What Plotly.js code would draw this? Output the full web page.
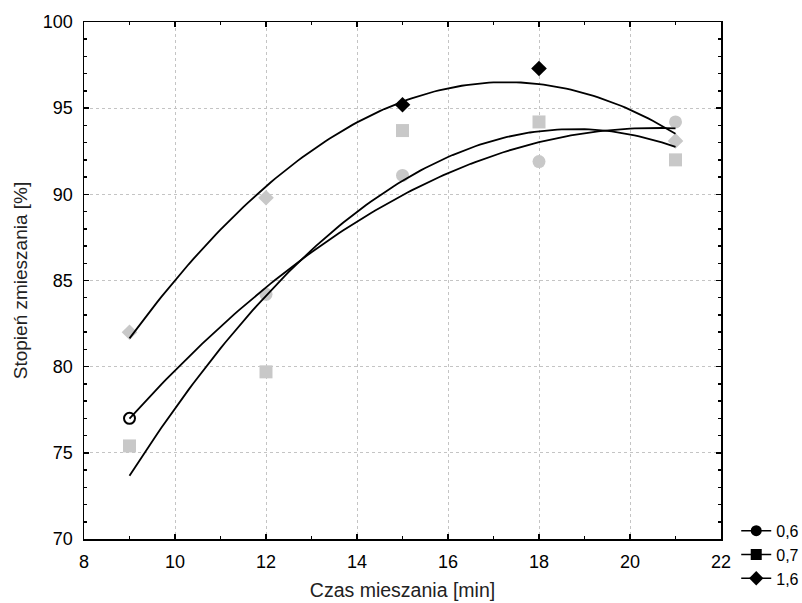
<!DOCTYPE html>
<html>
<head>
<meta charset="utf-8">
<script src="https://cdn.plot.ly/plotly-3.0.1.min.js"></script>
<style>html,body{margin:0;padding:0;background:#fff;}#chart{width:802px;height:603px;}</style>
</head>
<body>
<div id="chart"></div>
<script>
// ---- data ----
const czas = [9, 12, 15, 18, 21];            // Czas mieszania [min]
const s06 = [77.0, 84.2, 91.1, 91.9, 94.2];  // series 0,6 (circles)
const s07 = [75.4, 79.7, 93.7, 94.2, 92.0];  // series 0,7 (squares)
const s16 = [82.0, 89.8, 95.2, 97.3, 93.1];  // series 1,6 (diamonds)
const seriesNames = ['0,6', '0,7', '1,6'];
const xTicks = [8, 10, 12, 14, 16, 18, 20, 22];
const yTicks = [70, 75, 80, 85, 90, 95, 100];

// quadratic least-squares fit y = a + b x + c x^2
function quadFit(x, y) {
  let S = [0,0,0,0,0], T = [0,0,0];
  for (let i = 0; i < x.length; i++) {
    let p = 1;
    for (let k = 0; k < 5; k++) { S[k] += p; if (k < 3) T[k] += p * y[i]; p *= x[i]; }
  }
  const M = [[S[0],S[1],S[2],T[0]],[S[1],S[2],S[3],T[1]],[S[2],S[3],S[4],T[2]]];
  for (let i = 0; i < 3; i++) {
    let piv = M[i][i];
    for (let j = i; j < 4; j++) M[i][j] /= piv;
    for (let r = 0; r < 3; r++) if (r !== i) {
      const f = M[r][i];
      for (let j = i; j < 4; j++) M[r][j] -= f * M[i][j];
    }
  }
  return [M[0][3], M[1][3], M[2][3]];
}
function curve(x, y) {
  const c = quadFit(x, y);
  const xs = [], ys = [];
  const x0 = Math.min(...x), x1 = Math.max(...x);
  for (let i = 0; i <= 120; i++) {
    const xv = x0 + (x1 - x0) * i / 120;
    xs.push(xv); ys.push(c[0] + c[1] * xv + c[2] * xv * xv);
  }
  return {x: xs, y: ys};
}

const gray = '#c8c8c8';
const traces = [];

// gray markers
traces.push({x: czas.slice(1), y: s06.slice(1), mode: 'markers', type: 'scatter', showlegend: false,
  marker: {symbol: 'circle', size: 13, color: gray}});
traces.push({x: czas, y: s07, mode: 'markers', type: 'scatter', showlegend: false,
  marker: {symbol: 'square', size: 13, color: gray}});
traces.push({x: [czas[0], czas[1], czas[4]], y: [s16[0], s16[1], s16[4]], mode: 'markers', type: 'scatter', showlegend: false,
  marker: {symbol: 'diamond', size: 12, color: gray}});

// fitted curves
[s06, s07, s16].forEach(function (s) {
  const c = curve(czas, s);
  traces.push({x: c.x, y: c.y, mode: 'lines', type: 'scatter', showlegend: false,
    line: {color: '#000', width: 1.8}, hoverinfo: 'skip'});
});

// highlighted black markers
traces.push({x: [czas[0]], y: [s06[0]], mode: 'markers', type: 'scatter', showlegend: false,
  marker: {symbol: 'circle-open', size: 11, color: '#000', line: {width: 2, color: '#000'}}});
traces.push({x: [czas[2], czas[3]], y: [s16[2], s16[3]], mode: 'markers', type: 'scatter', showlegend: false,
  marker: {symbol: 'diamond', size: 12, color: '#000'}});

// legend entries
const legSym = ['circle', 'square', 'diamond'];
seriesNames.forEach(function (n, i) {
  traces.push({x: [null], y: [null], name: n, mode: 'lines+markers', type: 'scatter',
    line: {color: '#000', width: 1.5}, marker: {symbol: legSym[i], size: 11, color: '#000'}});
});

const FONT = 'Liberation Sans, Arial, sans-serif';
const axisCommon = {
  showline: true, linecolor: '#000', linewidth: 1.5, mirror: 'ticks',
  ticks: 'inside', ticklen: 5, tickwidth: 1.5, tickcolor: '#000',
  showgrid: true, gridcolor: '#c4c4c4', griddash: 'dot', gridwidth: 1,
  zeroline: false,
  tickfont: {family: FONT, size: 18, color: '#000'}
};

const layout = {
  width: 802, height: 603,
  margin: {l: 84, r: 81, t: 22, b: 64},
  paper_bgcolor: '#fff', plot_bgcolor: '#fff',
  font: {family: FONT, color: '#000'},
  xaxis: Object.assign({}, axisCommon, {
    range: [8, 22], tickvals: xTicks, ticktext: xTicks.map(String),
    ticklabelstandoff: 6,
    minor: {dtick: 1, tick0: 8, ticks: 'inside', ticklen: 3, tickcolor: '#000', showgrid: false},
    title: {text: 'Czas mieszania [min]', font: {size: 19.5, color: '#222'}, standoff: 12}
  }),
  yaxis: Object.assign({}, axisCommon, {
    range: [70, 100], tickvals: yTicks, ticktext: yTicks.map(String),
    ticklabelstandoff: 6,
    minor: {dtick: 1, tick0: 70, ticks: 'inside', ticklen: 3, tickcolor: '#000', showgrid: false},
    title: {text: 'Stopień zmieszania [%]', font: {size: 19, color: '#222'}, standoff: 10}
  }),
  showlegend: true,
  legend: {xref: 'container', yref: 'container', x: 0.918, xanchor: 'left', y: 0.148, yanchor: 'top',
    font: {family: FONT, size: 16, color: '#000'}, itemwidth: 30, tracegroupgap: 0,
    bgcolor: 'rgba(0,0,0,0)', borderwidth: 0}
};

Plotly.newPlot('chart', traces, layout, {displayModeBar: false, staticPlot: true});
</script>
</body>
</html>
